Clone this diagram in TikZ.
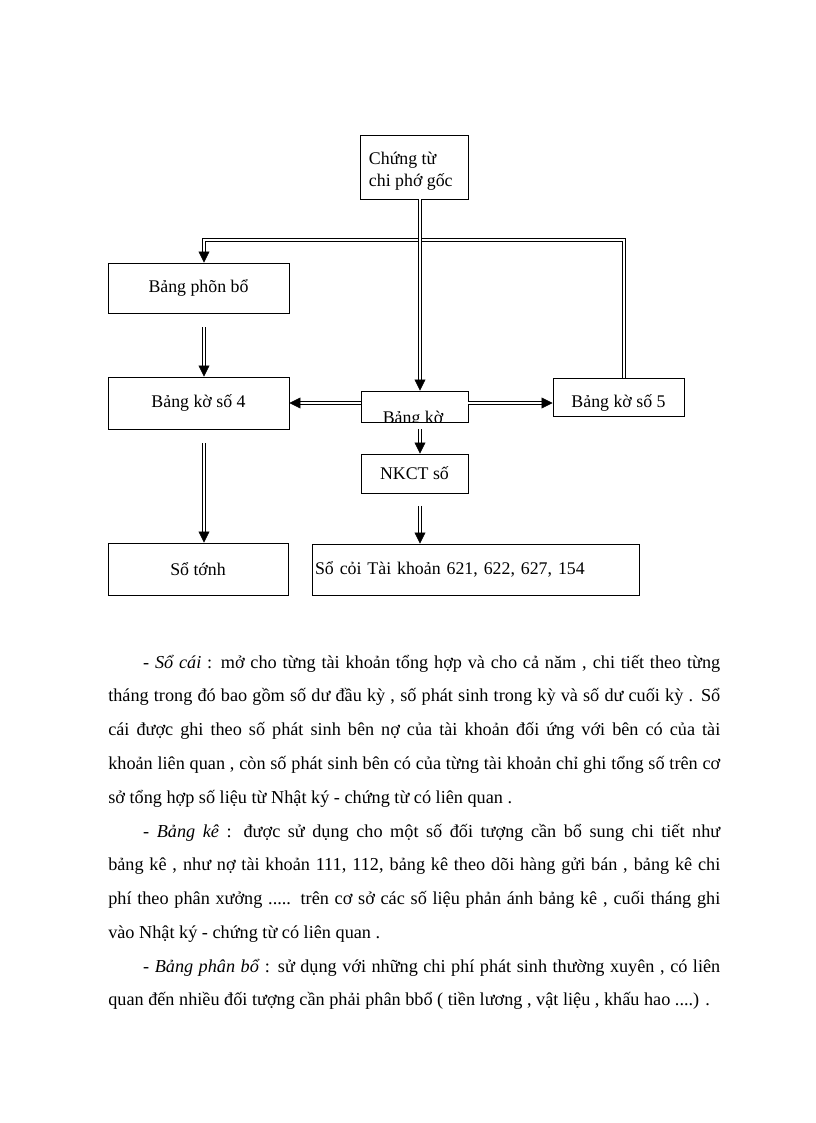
\documentclass[tikz,border=0pt]{standalone}
\usepackage{fontspec}
\setmainfont{Liberation Serif}
\usetikzlibrary{positioning, arrows.meta, calc}
\def\pxu{0.7295pt}
\tikzset{
  box/.style={draw, line width=0.7pt, inner sep=0pt, font=\fontsize{13}{16}\selectfont},
  dline/.style={double, double distance=1.8pt, line width=0.45pt},
  arr/.style={-{Triangle[length=8pt, width=8pt]}},
  para/.style={anchor=base west, inner sep=0pt, text width=612*\pxu, align=justify, font=\fontsize{13.3}{24.66}\selectfont}
}

\begin{document}
\begin{tikzpicture}[x=\pxu, y=-\pxu]
  \useasboundingbox (0,0) rectangle (816,1123);
  % boxes of the flow chart
  \node[box, minimum width=108*\pxu, minimum height=64*\pxu] (chung) at (414,167) {\raisebox{-3pt}[\height][\depth]{\parbox{65.7pt}{Chứng từ\\chi phớ gốc}}};
  \node[box, minimum width=181*\pxu, minimum height=50*\pxu] (phanbo) at (198.5,288) {Bảng phõn bổ};
  \node[box, minimum width=181*\pxu, minimum height=52*\pxu] (ke4) at (198.5,403) {Bảng kờ số 4};
  \node[box, minimum width=107*\pxu, minimum height=31*\pxu] (bangke) at (414.5,406.5) {};
  \node[box, minimum width=131*\pxu, minimum height=38*\pxu, text depth=0pt, text height=15pt] (ke5) at (618.5,397) {Bảng kờ số 5};
  \node[box, minimum width=107*\pxu, minimum height=39*\pxu] (nkct) at (414.5,473.5) {NKCT số};
  \node[box, minimum width=180*\pxu, minimum height=52*\pxu] (tong) at (198,569) {Sổ tớnh};
  \node[box, minimum width=327*\pxu, minimum height=51*\pxu, text width=321*\pxu, align=left] (socai) at (475.5,569.5) {Sổ cỏi Tài khoản 621, 622, 627, 154};
  \begin{scope}
    \clip (bangke.south west) rectangle (bangke.north east);
    \node[font=\fontsize{13}{16}\selectfont, anchor=base, inner sep=0pt] (bangketxt) at (413,423) {Bảng kờ};
  \end{scope}

  % columns of the connectors
  \coordinate (colL) at (204,240);
  \coordinate (colM) at (420,240);
  \coordinate (colR) at (624,240);

  % connectors
  \draw[dline, arr] (ke5.north -| colR) -- (colR) -- (colL) -- (phanbo.north -| colL);
  \draw[dline, arr] (chung.south -| colM) -- (bangke.north -| colM);
  \draw[dline, arr, shorten <=10pt] (phanbo.south -| colL) -- (ke4.north -| colL);
  \draw[dline, arr, shorten <=10pt] (ke4.south -| colL) -- (tong.north -| colL);
  \draw[dline, arr, shorten <=5pt] (bangke.south -| colM) -- (nkct.north -| colM);
  \draw[dline, arr, shorten <=9pt] (nkct.south -| colM) -- (socai.north -| colM);
  \draw[dline, arr] (bangke.west |- ke4.east) -- (ke4.east);
  \draw[dline, arr] (bangke.east |- ke4.east) -- (ke5.west |- ke4.east);

  % text below the chart
  \node[para] (socaitext) at (108,668) {\hspace*{25.5pt}- \textit{Sổ cái} : mở cho từng tài khoản tổng hợp và cho cả năm , chi tiết theo  từng\linebreak tháng trong đó bao gồm số dư đầu kỳ , số phát sinh  trong kỳ và số dư cuối kỳ . Sổ\linebreak cái được ghi theo số phát sinh bên nợ của tài khoản đối ứng với bên có của tài\linebreak khoản liên  quan , còn số phát sinh bên có của từng tài khoản chỉ ghi tổng số trên cơ\linebreak sở tổng hợp số liệu  từ  Nhật ký - chứng từ có liên  quan .};
  \node[para] (bangketext) at (108,837) {\hspace*{25.5pt}- \textit{Bảng kê} : được sử dụng cho một số đối tượng cần bổ sung chi tiết  như\linebreak bảng kê , như nợ tài khoản 111, 112, bảng kê theo dõi hàng gửi bán , bảng kê chi\linebreak phí theo phân xưởng ..... trên cơ sở các số liệu phản ánh bảng kê , cuối tháng ghi\linebreak vào Nhật ký - chứng từ  có liên quan .};
  \node[para] (phanbotext) at (108,972) {\hspace*{25.5pt}- \textit{Bảng phân bổ} : sử dụng với những chi phí phát sinh thường xuyên , có liên\linebreak quan đến nhiều đối tượng cần phải phân bbổ ( tiền lương , vật liệu , khấu hao ....) .};
\end{tikzpicture}
\end{document}
